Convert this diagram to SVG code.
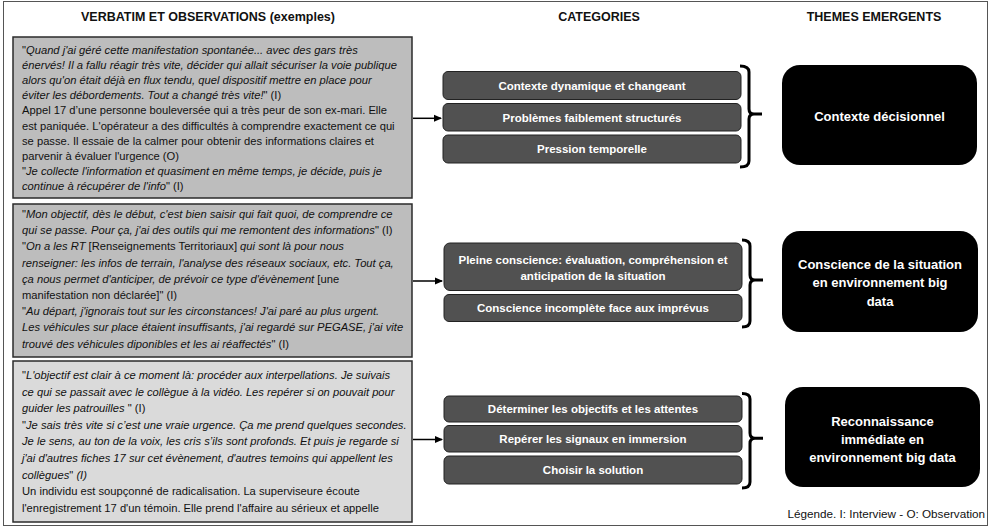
<svg xmlns="http://www.w3.org/2000/svg" width="990" height="528" viewBox="0 0 990 528">
<style>
.hdr{font-family:"Liberation Sans",Arial,sans-serif;font-weight:bold;font-size:12.5px;fill:#111;text-anchor:middle}
.vb{font-family:"Liberation Sans",Arial,sans-serif;font-size:11.2px;fill:#111}
.i{font-style:italic}
.src{fill:#bdbdbd;stroke:#2b2b2b;stroke-width:1.5}
.src3{fill:#dadada;stroke:#2b2b2b;stroke-width:1.5}
.cat{fill:#515151;stroke:#222;stroke-width:1}
.ct{font-family:"Liberation Sans",Arial,sans-serif;font-weight:bold;font-size:11.5px;fill:#fff;text-anchor:middle}
.th{fill:#000}
.tt{font-family:"Liberation Sans",Arial,sans-serif;font-weight:bold;font-size:13px;fill:#fff;text-anchor:middle}
.arr{stroke:#000;stroke-width:1.5;fill:none}
.brace{stroke:#000;stroke-width:3;fill:none;stroke-linecap:butt}
.leg{font-family:"Liberation Sans",Arial,sans-serif;font-size:11.7px;fill:#111;text-anchor:end}
</style>
<defs>
<marker id="ah" markerWidth="8" markerHeight="8" refX="7" refY="4" orient="auto" markerUnits="userSpaceOnUse">
<path d="M0,0.5 L8,4 L0,7.5 Z" fill="#000"/>
</marker>
</defs>
<rect x="0" y="0" width="990" height="528" fill="#fff"/>
<rect x="3.5" y="1.5" width="984" height="524" fill="none" stroke="#555" stroke-width="1"/>

<g id="headers">
<text class="hdr" x="208" y="21">VERBATIM ET OBSERVATIONS (exemples)</text>
<text class="hdr" x="599" y="21">CATEGORIES</text>
<text class="hdr" x="874" y="21">THEMES EMERGENTS</text>
</g>

<g id="verbatim1">
<rect class="src" x="13" y="37" width="399" height="161"/>
<text class="vb" x="22" y="54">"<tspan class="i">Quand j'ai géré cette manifestation spontanée... avec des gars très</tspan></text>
<text class="vb i" x="22" y="69.1">énervés! Il a fallu réagir très vite, décider qui allait sécuriser la voie publique</text>
<text class="vb i" x="22" y="84.2">alors qu'on était déjà en flux tendu,  quel dispositif mettre en place pour</text>
<text class="vb" x="22" y="99.3"><tspan class="i">éviter les débordements. Tout a changé très vite!</tspan>" (I)</text>
<text class="vb" x="22" y="114.4">Appel 17 d’une personne bouleversée qui a très peur de son ex-mari. Elle</text>
<text class="vb" x="22" y="129.5">est paniquée. L'opérateur a des difficultés à comprendre exactement ce qui</text>
<text class="vb" x="22" y="144.6">se passe. Il essaie de la calmer pour obtenir des informations claires et</text>
<text class="vb" x="22" y="159.7">parvenir à évaluer l'urgence (O)</text>
<text class="vb" x="22" y="174.8">"<tspan class="i">Je collecte l'information et quasiment en même temps, je décide, puis je</tspan></text>
<text class="vb" x="22" y="189.9"><tspan class="i">continue à récupérer de l'info</tspan>" (I)</text>
</g>

<g id="verbatim2">
<rect class="src" x="13" y="204" width="399" height="153"/>
<text class="vb" x="22" y="218">"<tspan class="i">Mon objectif, dès le début, c'est bien saisir qui fait quoi, de comprendre ce</tspan></text>
<text class="vb" x="22" y="234.2"><tspan class="i">qui se passe. Pour ça, j'ai des outils qui me remontent des informations</tspan>" (I)</text>
<text class="vb" x="22" y="250.4">"<tspan class="i">On a les RT</tspan> [Renseignements Territoriaux] <tspan class="i">qui sont là pour nous</tspan></text>
<text class="vb i" x="22" y="266.6">renseigner: les infos de terrain, l'analyse des réseaux sociaux, etc. Tout ça,</text>
<text class="vb" x="22" y="282.8"><tspan class="i">ça nous permet d'anticiper, de prévoir ce type d'évènement</tspan> [une</text>
<text class="vb" x="22" y="299">manifestation non déclarée]" (I)</text>
<text class="vb" x="22" y="315.2">"<tspan class="i">Au départ, j'ignorais tout sur les circonstances! J'ai  paré au plus urgent.</tspan></text>
<text class="vb i" x="22" y="331.4">Les véhicules sur place étaient insuffisants, j'ai regardé sur PEGASE, j'ai vite</text>
<text class="vb" x="22" y="347.6"><tspan class="i">trouvé des véhicules diponibles et les ai réaffectés</tspan>" (I)</text>
</g>

<g id="verbatim3">
<rect class="src3" x="13" y="361" width="399" height="161"/>
<text class="vb" x="22" y="379">"<tspan class="i">L'objectif est clair à ce moment là: procéder aux interpellations. Je suivais</tspan></text>
<text class="vb i" x="22" y="395.6">ce qui se passait avec le collègue à la vidéo. Les repérer si on pouvait pour</text>
<text class="vb" x="22" y="412.2"><tspan class="i">guider les patrouilles </tspan>" (I)</text>
<text class="vb" x="22" y="428.8">"<tspan class="i">Je sais très vite si c’est une vraie urgence. Ça me prend quelques secondes.</tspan></text>
<text class="vb i" x="22" y="445.4">Je le sens, au ton de la voix, les cris s’ils sont profonds. Et puis je regarde si</text>
<text class="vb i" x="22" y="462">j'ai d'autres fiches 17 sur cet évènement, d'autres temoins qui appellent les</text>
<text class="vb" x="22" y="478.6"><tspan class="i">collègues</tspan>" <tspan class="i">(I)</tspan></text>
<text class="vb" x="22" y="495.2">Un individu est soupçonné de radicalisation. La superviseure écoute</text>
<text class="vb" x="22" y="511.8">l'enregistrement 17 d'un témoin. Elle prend l'affaire au sérieux et appelle</text>
</g>

<g id="cat-contexte-dynamique">
<rect class="cat" x="443" y="71.5" width="298" height="28" rx="5"/>
<text class="ct" x="592" y="89.7">Contexte dynamique et changeant</text>
</g>
<g id="cat-problemes">
<rect class="cat" x="443" y="103.5" width="298" height="27.5" rx="5"/>
<text class="ct" x="592" y="121.7">Problèmes faiblement structurés</text>
</g>
<g id="cat-pression">
<rect class="cat" x="443" y="135" width="298" height="28" rx="5"/>
<text class="ct" x="592" y="153.3">Pression temporelle</text>
</g>

<g id="cat-pleine-conscience">
<rect class="cat" x="444" y="243" width="298" height="47.5" rx="6"/>
<text class="ct" x="593" y="264">Pleine conscience: évaluation, compréhension et</text>
<text class="ct" x="593" y="280">anticipation de la situation</text>
</g>
<g id="cat-conscience-incomplete">
<rect class="cat" x="444" y="294.5" width="298" height="27" rx="5"/>
<text class="ct" x="593" y="312.3">Conscience incomplète face aux imprévus</text>
</g>

<g id="cat-objectifs">
<rect class="cat" x="444" y="396" width="298" height="26" rx="5"/>
<text class="ct" x="593" y="413">Déterminer les objectifs et les attentes</text>
</g>
<g id="cat-signaux">
<rect class="cat" x="444" y="425.5" width="298" height="26.5" rx="5"/>
<text class="ct" x="593" y="442.5">Repérer les signaux en immersion</text>
</g>
<g id="cat-solution">
<rect class="cat" x="444" y="456" width="298" height="28" rx="5"/>
<text class="ct" x="593" y="474.3">Choisir la solution</text>
</g>

<g id="theme-contexte">
<rect class="th" x="782" y="65" width="195" height="100" rx="18"/>
<text class="tt" x="879.5" y="120.5">Contexte décisionnel</text>
</g>
<g id="theme-conscience">
<rect class="th" x="782" y="231" width="196" height="101" rx="18"/>
<text class="tt" x="880" y="268.5">Conscience de la situation</text>
<text class="tt" x="880" y="287">en environnement big</text>
<text class="tt" x="880" y="305.5">data</text>
</g>
<g id="theme-reconnaissance">
<rect class="th" x="785" y="387" width="195" height="100" rx="18"/>
<text class="tt" x="882.5" y="426">Reconnaissance</text>
<text class="tt" x="882.5" y="444">immédiate en</text>
<text class="tt" x="882.5" y="462">environnement big data</text>
</g>

<g id="connectors">
<line class="arr" x1="413" y1="118.3" x2="441" y2="118.3" marker-end="url(#ah)"/>
<line class="arr" x1="413" y1="281" x2="442" y2="281" marker-end="url(#ah)"/>
<line class="arr" x1="413" y1="439.5" x2="442" y2="439.5" marker-end="url(#ah)"/>
<path class="brace" d="M740,66 Q749,66 749,72 L749,109 Q749,114 754,114 L762,114 M754,114 Q749,114 749,119 L749,161 Q749,167 740,167"/>
<path class="brace" d="M742,240 Q750,240 750,246 L750,275 Q750,280 755,280 L763,280 M755,280 Q750,280 750,285 L750,321 Q750,327 742,327"/>
<path class="brace" d="M742,393.5 Q750,393.5 750,399 L750,433 Q750,438.3 755,438.3 L763,438.3 M755,438.3 Q750,438.3 750,443.5 L750,482 Q750,488 742,488"/>
</g>

<g id="legend">
<text class="leg" x="985" y="518">Légende. I: Interview - O: Observation</text>
</g>
</svg>
